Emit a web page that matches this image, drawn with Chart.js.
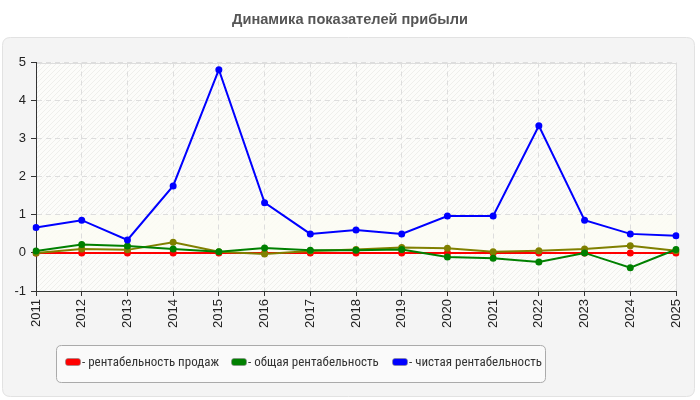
<!DOCTYPE html>
<html><head><meta charset="utf-8">
<script src="https://cdn.jsdelivr.net/npm/chart.js@4/dist/chart.umd.min.js"></script>
<style>html,body{margin:0;padding:0;background:#fff;}#wrap{width:700px;height:400px;}</style>
</head><body><div id="wrap"><canvas id="c" width="700" height="400"></canvas></div>
<script>
const years = ['2011','2012','2013','2014','2015','2016','2017','2018','2019','2020','2021','2022','2023','2024','2025'];
const salesProfitability = [0,0,0,0,0,0,0,0,0,0,0,0,0,0,0];
const totalProfitability = [0.05,0.22,0.18,0.10,0.03,0.13,0.07,0.07,0.09,-0.11,-0.14,-0.24,0.00,-0.39,0.09];
const netProfitability = [0.67,0.86,0.34,1.76,4.81,1.32,0.50,0.60,0.50,0.97,0.97,3.34,0.86,0.50,0.45];
const fourthSeries = [0.00,0.10,0.08,0.28,0.03,-0.03,0.05,0.09,0.14,0.12,0.03,0.06,0.10,0.19,0.06];
const yTicks = [-1,0,1,2,3,4,5];
const titleText = 'Динамика показателей прибыли';
const legendItems = [
  {label:'- рентабельность продаж', color:'#ff0000'},
  {label:'- общая рентабельность', color:'#008000'},
  {label:'- чистая рентабельность', color:'#0000ff'}
];

function roundRect(ctx,x,y,w,h,r){ctx.beginPath();ctx.moveTo(x+r,y);ctx.lineTo(x+w-r,y);ctx.quadraticCurveTo(x+w,y,x+w,y+r);ctx.lineTo(x+w,y+h-r);ctx.quadraticCurveTo(x+w,y+h,x+w-r,y+h);ctx.lineTo(x+r,y+h);ctx.quadraticCurveTo(x,y+h,x,y+h-r);ctx.lineTo(x,y+r);ctx.quadraticCurveTo(x,y,x+r,y);ctx.closePath();}

const bgPlugin = {
  id:'bg',
  beforeDraw(chart){
    const ctx = chart.ctx; const a = chart.chartArea;
    ctx.save();
    ctx.fillStyle='#ffffff'; ctx.fillRect(0,0,chart.width,chart.height);
    ctx.fillStyle='#555555'; ctx.font='bold 14.6px "Liberation Sans", Arial, sans-serif';
    ctx.textAlign='center'; ctx.textBaseline='middle';
    ctx.fillText(titleText, 350, 20);
    roundRect(ctx,2.5,37.5,692,359,8);
    ctx.fillStyle='#f4f4f4'; ctx.fill();
    ctx.strokeStyle='#e2e2e2'; ctx.lineWidth=1; ctx.stroke();
    const pc = document.createElement('canvas'); pc.width=5; pc.height=5;
    const p = pc.getContext('2d');
    p.fillStyle='#fcfcfa'; p.fillRect(0,0,5,5);
    p.strokeStyle='#efefec'; p.lineWidth=1;
    p.beginPath(); p.moveTo(0,5); p.lineTo(5,0); p.moveTo(-1,1); p.lineTo(1,-1); p.moveTo(4,6); p.lineTo(6,4); p.stroke();
    ctx.fillStyle = ctx.createPattern(pc,'repeat');
    ctx.fillRect(a.left,a.top,a.right-a.left,a.bottom-a.top);
    const y = chart.scales.y;
    ctx.fillStyle='rgba(251,251,243,0.85)';
    ctx.fillRect(a.left,y.getPixelForValue(1),a.right-a.left,y.getPixelForValue(0)-y.getPixelForValue(1));
    ctx.strokeStyle='#dddddd'; ctx.lineWidth=1;
    ctx.beginPath(); ctx.moveTo(a.left,Math.round(a.top)+0.5); ctx.lineTo(Math.round(a.right)+0.5,Math.round(a.top)+0.5); ctx.lineTo(Math.round(a.right)+0.5,a.bottom); ctx.stroke();
    ctx.restore();
  },
  afterDraw(chart){
    const ctx = chart.ctx;
    ctx.save();
    roundRect(ctx,56.5,345.5,489,37,5);
    ctx.fillStyle='#fafafa'; ctx.fill();
    ctx.strokeStyle='#aaaaaa'; ctx.lineWidth=1; ctx.stroke();
    const xs=[65,231,392];
    ctx.font='13px "Liberation Sans Narrow", "Roboto Condensed", Roboto, sans-serif'; ctx.textBaseline='middle'; ctx.textAlign='left';
    legendItems.forEach((it,i)=>{
      roundRect(ctx,xs[i]+0.5,358.5,15,7,2.5);
      ctx.fillStyle=it.color; ctx.fill();
      ctx.strokeStyle='#888'; ctx.lineWidth=0.6; ctx.stroke();
      ctx.fillStyle='#333333';
      ctx.fillText(it.label, xs[i]+17, 362.5);
    });
    ctx.restore();
  }
};

function ds(data,color){return {data,borderColor:color,backgroundColor:color,borderWidth:2,pointRadius:3.5,pointHoverRadius:3.5,pointBorderWidth:0,tension:0,fill:false};}

new Chart(document.getElementById('c'),{
  type:'line',
  data:{labels:years,datasets:[
    ds(netProfitability,'#0000ff'),
    ds(totalProfitability,'#008000'),
    ds(fourthSeries,'#808000'),
    ds(salesProfitability,'#ff0000')
  ]},
  options:{
    responsive:false,animation:false,devicePixelRatio:1,
    layout:{padding:{left:0,right:24,top:62.5,bottom:59}},
    plugins:{legend:{display:false},title:{display:false},tooltip:{enabled:false}},
    scales:{
      x:{offset:false,
        afterFit(s){s.height=50;},
        grid:{color:'#dddddd',tickColor:'#333333',tickLength:5,tickBorderDash:[0,0]},
        border:{color:'#333333',width:1,dash:[5,4]},
        ticks:{color:'#222222',font:{size:13,family:'"Liberation Sans", Arial, sans-serif'},maxRotation:90,minRotation:90,autoSkip:false,padding:3}
      },
      y:{min:-1,max:5,
        afterFit(s){s.width=36;},
        afterBuildTicks(s){s.ticks=yTicks.map(v=>({value:v}));},
        grid:{color:'#dddddd',tickColor:'#333333',tickLength:5,tickBorderDash:[0,0]},
        border:{color:'#333333',width:1,dash:[5,4]},
        ticks:{color:'#222222',font:{size:13,family:'"Liberation Sans", Arial, sans-serif'},padding:5}
      }
    }
  },
  plugins:[bgPlugin]
});
</script></body></html>
